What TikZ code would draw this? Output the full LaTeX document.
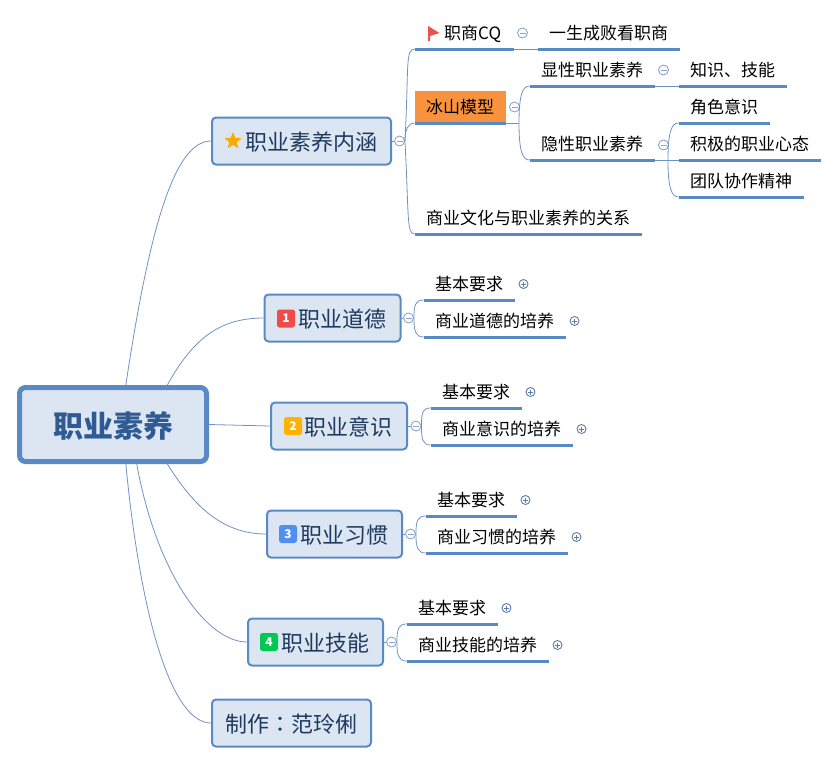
\documentclass[tikz,border=0pt]{standalone}
\usepackage{fontspec}
\setmainfont{Noto Sans CJK SC}
\newfontfamily\tcfont{Noto Sans CJK TC}
\usetikzlibrary{shapes.geometric}
\definecolor{edgeblue}{HTML}{5A8AC6}
\definecolor{thinblue}{HTML}{6F92C4}
\definecolor{boxfill}{HTML}{DCE6F2}
\definecolor{boxtext}{HTML}{1F3A5F}
\definecolor{roottext}{HTML}{2F5B92}
\definecolor{foldline}{HTML}{8CA6CC}
\definecolor{plusline}{HTML}{5E7CA8}
\definecolor{iceorange}{HTML}{F8923F}
\definecolor{starorange}{HTML}{FFAA00}
\definecolor{flagred}{HTML}{EF5050}
\definecolor{onered}{HTML}{EF4B4B}
\definecolor{twoyellow}{HTML}{FFB300}
\definecolor{threeblue}{HTML}{4F8FF0}
\definecolor{fourgreen}{HTML}{00C853}
\tikzset{
  rootbox/.style={draw=edgeblue, fill=boxfill, line width=5pt, rounded corners=6pt, inner sep=0pt,
    minimum width=187pt, minimum height=74pt, text=roottext, text height=28pt, text depth=3pt,
    font=\fontsize{30}{30}\selectfont\bfseries},
  mainbox/.style={draw=edgeblue, fill=boxfill, line width=2pt, rounded corners=4pt, inner sep=0pt,
    minimum height=47pt, text=boxtext, text height=21pt, text depth=2pt, font=\fontsize{22}{22}\selectfont},
  leaf/.style={anchor=south west, inner xsep=11.5pt, inner ysep=0pt, minimum height=32pt, text=black,
    text height=16pt, text depth=2pt, font=\fontsize{17}{17}\selectfont,
    append after command={(\tikzlastnode.south west) edge[edgeblue, line width=3pt] (\tikzlastnode.south east)}},
  branch/.style={draw=thinblue, line width=0.8pt},
  fold/.style={circle, draw=foldline, fill=white, line width=0.9pt, inner sep=0pt, minimum size=10pt},
  foldminus/.style={fold, path picture={\draw[foldline, line width=0.9pt]
    ([xshift=2pt]path picture bounding box.west) -- ([xshift=-2pt]path picture bounding box.east);}},
  foldplus/.style={fold, draw=plusline, minimum size=9pt, path picture={\draw[plusline, line width=0.9pt]
    ([xshift=2pt]path picture bounding box.west) -- ([xshift=-2pt]path picture bounding box.east)
    ([yshift=2pt]path picture bounding box.south) -- ([yshift=-2pt]path picture bounding box.north);}},
  badge/.style={rounded corners=2.5pt, minimum size=18pt, inner sep=0pt, text=white,
    font=\fontsize{12}{12}\selectfont\bfseries}
}
\begin{document}
\begin{tikzpicture}[x=1pt, y=1pt]
    \useasboundingbox (0,0) rectangle (839,-764);

    % Root and first level boxes
    \node[rootbox] (root) at (113,-424.5) {职业素养};
    \node[mainbox, minimum width=179pt] (neihan) at (301.5,-141) {\hspace*{19pt}职业素养内涵};
    \node[mainbox, minimum width=136pt] (daode) at (332.5,-318) {\hspace*{19pt}职业道德};
    \node[mainbox, minimum width=136pt] (yishi) at (339,-426) {\hspace*{19pt}职业意识};
    \node[mainbox, minimum width=135pt] (xiguan) at (334.5,-534) {\hspace*{19pt}职业习惯};
    \node[mainbox, minimum width=135pt] (jineng) at (315.5,-642) {\hspace*{19pt}职业技能};
    \node[mainbox, minimum width=159pt] (zhizuo) at (291.5,-723) {制作{\tcfont ^^^^ff1a}范玲俐};

    % Icons in the boxes
    \node[star, star points=5, star point ratio=2.3, fill=starorange, inner sep=0pt, minimum size=18pt] (staricon) at (233,-141) {};
    \node[badge, fill=onered] (badgeone) at (286,-318.5) {1};
    \node[badge, fill=twoyellow] (badgetwo) at (293,-426) {2};
    \node[badge, fill=threeblue] (badgethree) at (288,-534) {3};
    \node[badge, fill=fourgreen] (badgefour) at (269,-642) {4};

    % Root connectors
    \draw[branch] (root.72) .. controls +(24,160) and +(-36,0) .. (neihan.west);
    \draw[branch] (root.36) .. controls +(25,45) and +(-45,0) .. (daode.west);
    \draw[branch] (root.east) -- (yishi.west);
    \draw[branch] (root.-36) .. controls +(25,-40) and +(-45,0) .. (xiguan.west);
    \draw[branch] (root.-59) .. controls +(20,-110) and +(-40,0) .. (jineng.west);
    \draw[branch] (root.-72) .. controls +(14,-146) and +(-41,0) .. (zhizuo.west);

    % First branch
    \node[leaf, inner xsep=0pt, minimum width=99pt] (zhishang) at (415,-49) {\hspace*{16pt}职商CQ};
    \node[leaf] (yisheng) at (537.5,-49) {一生成败看职商};
    \node[leaf, fill=iceorange] (bingshan) at (414.5,-123) {冰山模型};
    \node[leaf] (xianxing) at (529.5,-86) {显性职业素养};
    \node[leaf] (zhishi) at (678.5,-86) {知识、技能};
    \node[leaf] (yinxing) at (529.5,-160) {隐性职业素养};
    \node[leaf] (juese) at (678.5,-123) {角色意识};
    \node[leaf] (jiji) at (678.5,-160) {积极的职业心态};
    \node[leaf] (tuandui) at (678.5,-197) {团队协作精神};
    \node[leaf] (shangye) at (414.5,-234) {商业文化与职业素养的关系};

    % Flag
    \fill[flagred] (428,-26) -- (439.5,-33) -- (430,-36) -- (430,-41) -- (428,-41) -- cycle;

    \coordinate (bingfork) at (519,-123);
    \coordinate (yinfork) at (668,-160);
    \node[foldminus] (foldneihan) at (399.5,-141) {};
    \node[foldminus] (foldzhishang) at (522.5,-33) {};
    \node[foldminus] (foldbing) at (514.5,-107) {};
    \node[foldminus] (foldxian) at (663.5,-70) {};
    \node[foldminus] (foldyin) at (663.5,-145) {};

    \draw[branch] (neihan.east) -- (foldneihan.west);
    \draw[branch] (foldneihan.east) .. controls +(4,75) and +(-10,0) .. (zhishang.south west);
    \draw[branch] (foldneihan.east) .. controls +(0,12) and +(-6,0) .. (bingshan.south west);
    \draw[branch] (foldneihan.east) .. controls +(4,-75) and +(-8,0) .. (shangye.south west);
    \draw[branch] (zhishang.south east) -- (yisheng.south west);
    \draw[branch] (bingshan.south east) -- (bingfork);
    \draw[branch] (bingfork) .. controls +(0,28) and +(-7,0) .. (xianxing.south west);
    \draw[branch] (bingfork) .. controls +(0,-28) and +(-7,0) .. (yinxing.south west);
    \draw[branch] (xianxing.south east) -- (zhishi.south west);
    \draw[branch] (yinxing.south east) -- (jiji.south west);
    \draw[branch] (yinfork) .. controls +(0,28) and +(-7,0) .. (juese.south west);
    \draw[branch] (yinfork) .. controls +(0,-28) and +(-7,0) .. (tuandui.south west);

    % Other branches
    \foreach \name/\word/\x/\y/\foldx in {daode/道德/423.5/-300/408.5, yishi/意识/430.5/-408/416, xiguan/习惯/425.5/-516/410.5, jineng/技能/406.5/-624/391.5}{
        \node[leaf] (\name req) at (\x,\y) {基本要求};
        \node[leaf] (\name train) at (\x,\y-37) {商业\word 的培养};
        \node[foldminus] (fold\name) at (\foldx,\y-18.5+.5) {};
        \node[foldplus] (\name plusa) at (\x+100,\y+16) {};
        \node[foldplus] (\name plusb) at (\x+151,\y-21) {};
        \draw[branch] (\name.east) -- (fold\name.west);
        \draw[branch] (fold\name.east) .. controls +(0,13) and +(-8,0) .. (\name req.south west);
        \draw[branch] (fold\name.east) .. controls +(0,-13) and +(-8,0) .. (\name train.south west);
    }
\end{tikzpicture}
\end{document}
